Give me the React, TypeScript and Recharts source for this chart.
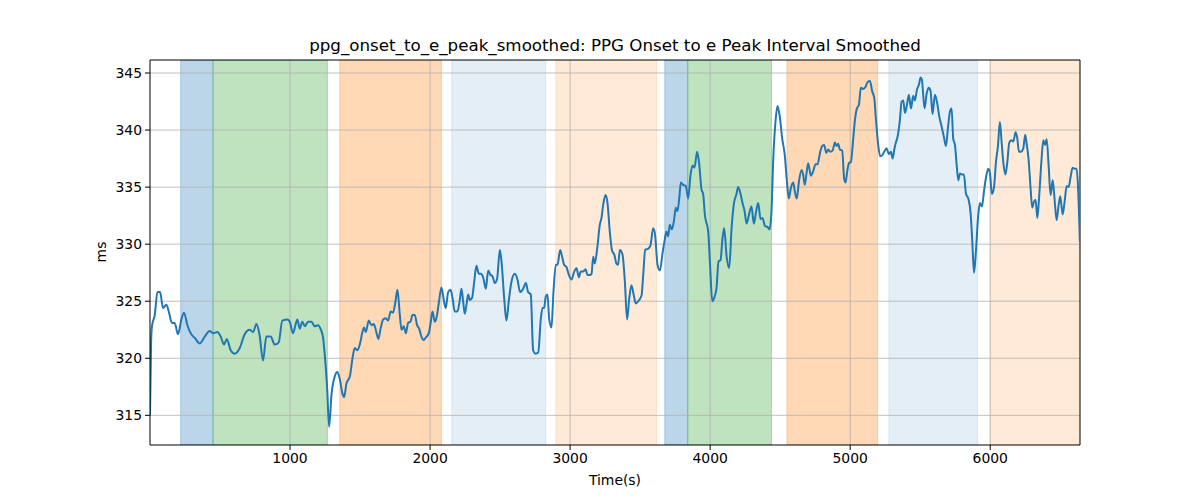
import { LineChart, Line, XAxis, YAxis, ReferenceArea, ReferenceLine } from "recharts";

// time (s) and smoothed interval (ms)
const times = [
  0, 8, 14, 34, 53, 72, 93, 117, 134, 157, 176, 200, 224, 243, 267, 295, 319, 355, 391, 426, 450,
  481, 505, 529, 548, 576, 605, 641, 676, 712, 736, 760, 783, 807, 831, 862, 891, 919, 945, 981, 998,
  1021, 1052, 1069, 1088, 1105, 1129, 1153, 1176, 1200, 1217, 1236, 1250, 1265, 1279, 1296, 1319, 1338, 1355, 1374, 1386,
  1403, 1427, 1446, 1462, 1481, 1498, 1517, 1529, 1541, 1562, 1581, 1598, 1612, 1631, 1645, 1665, 1684, 1700, 1719, 1736,
  1753, 1767, 1784, 1796, 1812, 1827, 1843, 1860, 1874, 1891, 1907, 1922, 1938, 1955, 1969, 1991, 2005, 2017, 2034, 2045,
  2064, 2081, 2098, 2112, 2129, 2146, 2160, 2176, 2195, 2212, 2224, 2236, 2248, 2260, 2272, 2284, 2300, 2315, 2331, 2348,
  2362, 2379, 2398, 2415, 2431, 2445, 2462, 2479, 2498, 2510, 2529, 2545, 2562, 2581, 2605, 2624, 2643, 2665, 2684, 2700,
  2719, 2736, 2753, 2772, 2791, 2803, 2814, 2826, 2838, 2850, 2867, 2881, 2898, 2910, 2929, 2943, 2957, 2974, 2991, 3010,
  3029, 3046, 3062, 3076, 3093, 3110, 3124, 3141, 3153, 3165, 3176, 3195, 3212, 3224, 3238, 3253, 3267, 3284, 3300, 3315,
  3331, 3343, 3355, 3374, 3391, 3407, 3422, 3438, 3455, 3469, 3486, 3510, 3522, 3536, 3557, 3574, 3593, 3607, 3624, 3641,
  3660, 3676, 3688, 3700, 3712, 3726, 3741, 3755, 3767, 3779, 3791, 3807, 3826, 3843, 3860, 3874, 3888, 3907, 3922, 3938,
  3950, 3962, 3986, 3998, 4015, 4029, 4045, 4060, 4074, 4088, 4100, 4117, 4136, 4153, 4169, 4188, 4200, 4217, 4231, 4246,
  4260, 4279, 4295, 4312, 4326, 4343, 4360, 4374, 4391, 4410, 4424, 4438, 4450, 4467, 4481, 4498, 4514, 4533, 4548, 4562,
  4576, 4593, 4605, 4619, 4634, 4653, 4664, 4676, 4688, 4700, 4719, 4736, 4753, 4767, 4784, 4800, 4814, 4829, 4843, 4857,
  4874, 4891, 4903, 4914, 4926, 4943, 4957, 4967, 4979, 4991, 5005, 5022, 5034, 5048, 5062, 5076, 5093, 5110, 5124, 5141,
  5157, 5172, 5184, 5200, 5214, 5229, 5243, 5260, 5276, 5291, 5303, 5315, 5326, 5338, 5355, 5367, 5379, 5391, 5405, 5419,
  5434, 5450, 5462, 5476, 5491, 5503, 5512, 5531, 5546, 5560, 5574, 5588, 5605, 5622, 5636, 5653, 5669, 5684, 5698, 5712,
  5724, 5736, 5748, 5760, 5772, 5784, 5798, 5812, 5827, 5843, 5860, 5872, 5884, 5898, 5912, 5926, 5941, 5955, 5969, 5986,
  5998, 6012, 6027, 6041, 6055, 6069, 6081, 6093, 6108, 6122, 6136, 6150, 6165, 6181, 6193, 6205, 6219, 6236, 6250, 6260,
  6274, 6288, 6300, 6312, 6324, 6336, 6350, 6365, 6379, 6391, 6403, 6417, 6431, 6446, 6457, 6474, 6488, 6500, 6517, 6531,
  6546, 6560, 6574, 6588, 6603, 6617, 6627, 6640,
];

const intervals = [
  315.0, 321.5, 322.8, 323.8, 325.8, 325.8, 324.4, 324.7, 324.1, 323.1, 323.1, 322.1, 323.4, 324.0, 322.9, 322.1, 321.8, 321.3, 321.9, 322.4, 322.2,
  322.3, 321.9, 321.2, 321.7, 320.7, 320.4, 320.9, 322.1, 322.5, 322.3, 323.0, 322.0, 319.8, 321.9, 321.9, 321.2, 321.4, 323.3, 323.4, 323.2,
  322.2, 323.4, 322.6, 323.2, 322.8, 323.2, 323.2, 322.8, 322.9, 322.6, 321.8, 320.0, 317.4, 314.0, 316.8, 318.4, 318.8, 318.2, 316.9, 316.6,
  317.8, 318.4, 320.0, 320.9, 320.7, 321.2, 322.3, 322.7, 322.3, 323.3, 322.9, 323.0, 322.5, 321.7, 322.5, 323.4, 323.5, 323.3, 324.1, 324.0,
  325.0, 326.0, 323.8, 322.5, 322.8, 322.2, 323.1, 323.2, 323.8, 323.8, 322.9, 322.6, 321.9, 321.6, 321.8, 322.2, 323.2, 324.1, 323.2, 323.5,
  325.0, 326.2, 325.1, 324.4, 325.8, 326.0, 325.3, 324.1, 324.1, 325.1, 326.1, 325.0, 323.9, 324.7, 325.6, 325.1, 325.3, 326.7, 328.1, 327.4,
  327.4, 327.1, 326.1, 327.7, 327.3, 327.2, 326.6, 327.0, 329.5, 328.5, 325.3, 323.3, 325.0, 326.7, 327.4, 326.9, 325.8, 326.1, 326.6, 325.8,
  325.6, 320.7, 320.4, 320.5, 323.5, 324.4, 324.4, 325.4, 325.6, 323.5, 322.7, 325.8, 328.2, 328.2, 329.5, 328.9, 328.2, 328.0, 327.3, 326.9,
  327.6, 327.9, 327.1, 327.6, 327.6, 327.8, 327.3, 327.3, 327.4, 328.9, 328.3, 329.8, 331.7, 332.3, 333.6, 334.3, 333.6, 331.0, 329.4, 329.1,
  328.3, 328.2, 329.5, 329.1, 326.7, 323.4, 325.2, 326.4, 325.5, 324.8, 325.0, 325.5, 327.3, 329.5, 329.6, 329.9, 331.4, 330.8, 328.2, 327.7,
  329.2, 330.4, 331.1, 330.7, 331.7, 331.3, 332.0, 333.2, 332.9, 334.0, 335.4, 335.2, 335.1, 334.0, 336.1, 336.9, 336.7, 338.1, 337.0, 334.8,
  334.4, 332.6, 331.1, 328.5, 325.0, 325.3, 326.1, 328.5, 328.6, 330.5, 331.4, 329.0, 327.9, 331.4, 333.5, 334.4, 335.0, 334.4, 333.6, 332.9,
  331.8, 332.7, 333.3, 331.8, 332.7, 333.6, 332.2, 332.3, 331.6, 331.5, 331.3, 332.9, 337.3, 340.8, 342.1, 341.1, 339.3, 337.8, 335.5, 334.0,
  334.9, 335.4, 334.6, 334.0, 335.5, 336.5, 336.1, 335.2, 336.2, 337.1, 336.0, 336.4, 337.0, 337.0, 338.0, 338.6, 338.7, 338.0, 338.3, 338.1,
  338.2, 338.9, 338.6, 338.8, 338.3, 338.2, 335.7, 335.4, 336.4, 337.1, 337.2, 339.3, 340.9, 341.9, 342.2, 343.7, 343.6, 343.8, 344.2, 344.3,
  343.4, 342.8, 340.9, 338.7, 337.7, 337.8, 338.1, 338.4, 337.9, 338.1, 337.5, 338.3, 338.9, 339.4, 340.9, 342.5, 342.6, 341.5, 342.2, 343.1,
  341.9, 343.0, 342.6, 343.5, 344.0, 344.6, 344.4, 341.9, 343.2, 343.7, 343.4, 341.4, 343.1, 342.3, 341.2, 340.3, 339.4, 338.6, 340.2, 341.6,
  341.9, 339.2, 338.7, 337.0, 335.6, 336.2, 336.1, 336.1, 334.4, 334.0, 332.7, 330.2, 327.5, 329.4, 332.2, 333.6, 333.3, 334.6, 335.8, 336.6,
  336.2, 334.4, 335.0, 337.2, 338.6, 340.7, 339.0, 337.2, 336.1, 337.2, 338.9, 339.1, 339.0, 339.8, 339.3, 338.1, 338.1, 338.4, 339.6, 338.8,
  337.4, 334.9, 333.2, 333.7, 333.9, 332.3, 334.3, 337.2, 339.1, 338.7, 339.2, 336.9, 334.3, 335.6, 334.3, 332.1, 333.4, 334.2, 332.6, 333.7,
  335.1, 335.0, 335.9, 336.7, 336.6, 336.6, 335.0, 330.2,
];

// shaded phases (start, end in s)
const spanStarts = [219, 450, 1355, 2155, 2898, 3676, 3840, 4548, 5276, 5998];
const spanEnds = [450, 1267, 2081, 2826, 3617, 3840, 4438, 5196, 5910, 6641];
const spanColors = ["#1f77b4", "#2ca02c", "#ff7f0e", "#1f77b4", "#ff7f0e", "#1f77b4", "#2ca02c", "#ff7f0e", "#1f77b4", "#ff7f0e"];
const spanAlphas = [0.3, 0.3, 0.3, 0.12, 0.16, 0.3, 0.3, 0.3, 0.12, 0.16];

const xTicks = [1000, 2000, 3000, 4000, 5000, 6000];
const yTicks = [315, 320, 325, 330, 335, 340, 345];
const xDomain = [0, 6641];
const yDomain = [312.4, 346.14];

const data = times.map((t, i) => ({ t, v: intervals[i] }));

const font = "'DejaVu Sans', sans-serif";
const tickStyle = { fontFamily: font, fontSize: 13.9, fill: "#000" };

export default function App() {
  return (
    <div style={{ position: "absolute", left: 0, top: 0, width: 1200, height: 500, background: "#fff" }}>
      <div
        style={{
          position: "absolute",
          left: 150,
          width: 930,
          top: 35,
          textAlign: "center",
          fontFamily: font,
          fontSize: 16.7,
          lineHeight: "20px",
          color: "#000",
        }}
      >
        ppg_onset_to_e_peak_smoothed: PPG Onset to e Peak Interval Smoothed
      </div>
      <div
        style={{
          position: "absolute",
          left: 150,
          width: 930,
          top: 472,
          textAlign: "center",
          fontFamily: font,
          fontSize: 13.9,
          lineHeight: "17px",
          color: "#000",
        }}
      >
        Time(s)
      </div>
      <div
        style={{
          position: "absolute",
          left: 101,
          top: 252,
          transform: "translate(-50%, -50%) rotate(-90deg)",
          fontFamily: font,
          fontSize: 13.9,
          lineHeight: "17px",
          color: "#000",
        }}
      >
        ms
      </div>

      <LineChart width={1200} height={500} data={data} margin={{ top: 60, right: 120, bottom: 0, left: 0 }}>
        <XAxis
          dataKey="t"
          type="number"
          domain={xDomain}
          allowDataOverflow
          ticks={xTicks}
          height={55}
          tick={tickStyle}
          tickSize={5}
          tickMargin={3}
          axisLine={{ stroke: "#000", strokeWidth: 1 }}
          tickLine={{ stroke: "#000", strokeWidth: 1 }}
        />
        <YAxis
          type="number"
          domain={yDomain}
          allowDataOverflow
          ticks={yTicks}
          width={150}
          tick={tickStyle}
          tickSize={5}
          tickMargin={3}
          axisLine={{ stroke: "#000", strokeWidth: 1 }}
          tickLine={{ stroke: "#000", strokeWidth: 1 }}
        />

        {spanStarts.map((s, i) => (
          <ReferenceArea
            key={"span" + i}
            x1={s}
            x2={spanEnds[i]}
            fill={spanColors[i]}
            fillOpacity={spanAlphas[i]}
            stroke={spanColors[i]}
            strokeOpacity={spanAlphas[i]}
            ifOverflow="hidden"
          />
        ))}

        {/* grid over the shading, like matplotlib */}
        {xTicks.map((x) => (
          <ReferenceLine key={"gx" + x} x={x} stroke="#b0b0b0" strokeWidth={0.8} />
        ))}
        {yTicks.map((y) => (
          <ReferenceLine key={"gy" + y} y={y} stroke="#b0b0b0" strokeWidth={0.8} />
        ))}

        {/* top and right spines */}
        <ReferenceLine y={yDomain[1]} stroke="#000" strokeWidth={1} />
        <ReferenceLine x={xDomain[1]} stroke="#000" strokeWidth={1} />

        <Line
          type="monotone"
          dataKey="v"
          stroke="#1f77b4"
          strokeWidth={2}
          dot={false}
          isAnimationActive={false}
        />
      </LineChart>
    </div>
  );
}
